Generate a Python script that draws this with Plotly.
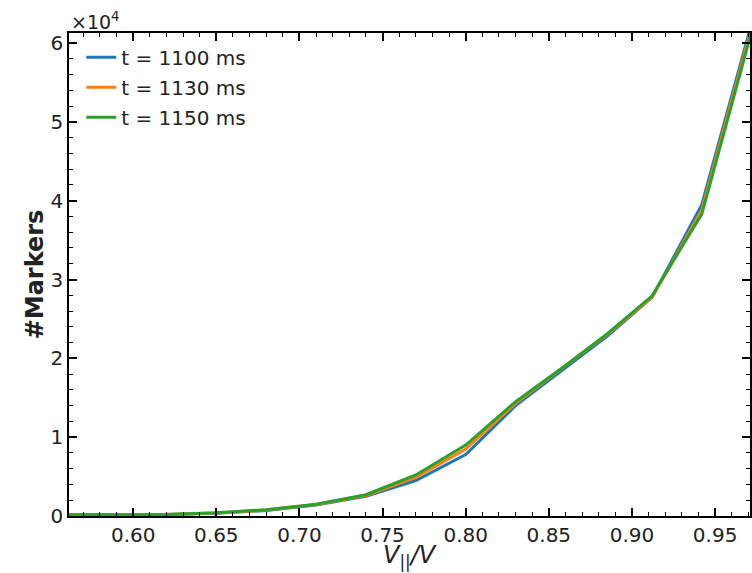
import plotly.graph_objects as go

# V_parallel / V bin positions
x_vals = [0.55, 0.59, 0.62, 0.65, 0.68, 0.71, 0.74, 0.77, 0.80, 0.83, 0.86, 0.885, 0.912, 0.942, 0.972]
# marker counts
y_1100 = [150, 150, 180, 350, 700, 1400, 2500, 4500, 7800, 14000, 18800, 22800, 27700, 39500, 62500]
y_1130 = [150, 150, 180, 380, 750, 1450, 2600, 4900, 8500, 14300, 19000, 23000, 27700, 38800, 62000]
y_1150 = [150, 160, 200, 420, 800, 1500, 2700, 5200, 9000, 14500, 19100, 23100, 27900, 38300, 61500]

series_names = ["t = 1100 ms", "t = 1130 ms", "t = 1150 ms"]
series_vals = [y_1100, y_1130, y_1150]
colors = ["#1f77b4", "#ff7f0e", "#2ca02c"]

y_tickvals = [0, 10000, 20000, 30000, 40000, 50000, 60000]
y_ticktext = ["0", "1", "2", "3", "4", "5", "6"]
x_tickvals = [0.60, 0.65, 0.70, 0.75, 0.80, 0.85, 0.90, 0.95]
x_ticktext = ["0.60", "0.65", "0.70", "0.75", "0.80", "0.85", "0.90", "0.95"]

FONT = "DejaVu Sans"

fig = go.Figure()
for i, (name, vals, c) in enumerate(zip(series_names, series_vals, colors)):
    fig.add_trace(go.Scatter(x=x_vals, y=vals, mode="lines", name=name,
                             legendgroup=f"g{i}",
                             line=dict(color=c, width=3)))

axis_common = dict(
    showline=True, linecolor="black", linewidth=1.5, mirror="allticks",
    ticks="inside", ticklen=8, tickwidth=1.5, tickcolor="black",
    showgrid=False, zeroline=False, automargin=False,
    tickfont=dict(family=FONT, size=20, color="#222"),
)

fig.update_layout(
    width=752, height=573,
    margin=dict(l=69, r=2, t=33, b=57),
    paper_bgcolor="white", plot_bgcolor="white",
    font=dict(family=FONT, color="#222"),
    showlegend=True,
    legend=dict(x=0.018, y=0.99, xanchor="left", yanchor="top",
                bgcolor="rgba(255,255,255,0)", borderwidth=0,
                font=dict(family=FONT, size=20, color="#222"),
                tracegroupgap=1),
    xaxis=dict(range=[0.5614, 0.971], tickvals=x_tickvals, ticktext=x_ticktext,
               minor=dict(ticks="inside", ticklen=4, tickwidth=1.2, tickcolor="black", dtick=0.01),
               **axis_common),
    yaxis=dict(range=[0, 61270], tickvals=y_tickvals, ticktext=y_ticktext,
               minor=dict(ticks="inside", ticklen=4, tickwidth=1.2, tickcolor="black", dtick=2000),
               title=dict(text="<b>#Markers</b>", font=dict(family=FONT, size=24, color="#222"),
                          standoff=0),
               **axis_common),
)

# x-axis label
fig.add_annotation(text="<i>V</i><sub>||</sub><i>/V</i>", xref="paper", yref="paper",
                   x=0.5, y=0.0, xanchor="center", yanchor="bottom", showarrow=False,
                   font=dict(family=FONT, size=24, color="#222"), yshift=-58)

fig.add_annotation(text="×10<sup>4</sup>", xref="paper", yref="paper", x=0.0, y=1.0,
                   xanchor="left", yanchor="bottom", showarrow=False,
                   font=dict(family=FONT, size=19, color="#222"), yshift=-2)

fig.write_html("out.html")
